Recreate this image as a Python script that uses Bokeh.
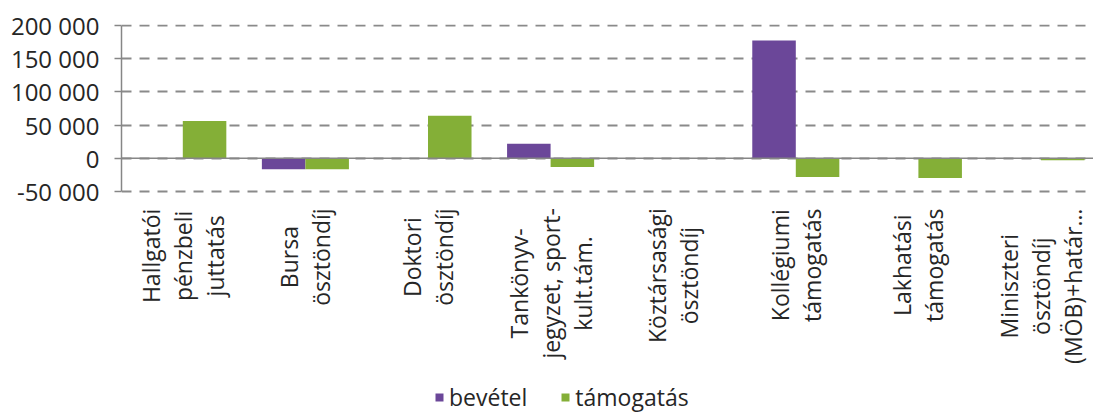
import math
from bokeh.plotting import figure
from bokeh.models import (Range1d, FixedTicker, Span, Legend, LegendItem,
                          ColumnDataSource, Label)
from bokeh.embed import file_html
from bokeh.resources import INLINE

categories = ["Hallgatói\npénzbeli\njuttatás", "Bursa\nösztöndíj", "Doktori\nösztöndíj",
              "Tankönyv-\njegyzet, sport-\nkult.tám.", "Köztársasági\nösztöndíj",
              "Kollégiumi\ntámogatás", "Lakhatási\ntámogatás",
              "Miniszteri\nösztöndíj\n(MÖB)+határ…"]
bevetel = [0, -16500, 0, 22000, 0, 177500, 0, 0]
tamogatas = [56000, -16500, 64000, -13000, 0, -28000, -29500, -3000]
series_names = ["bevétel", "támogatás"]
y_ticks = [-50000, 0, 50000, 100000, 150000, 200000]
y_tick_labels = ["-50 000", "0", "50 000", "100 000", "150 000", "200 000"]

FONT = "Open Sans"
GRAY = "#868686"
TXT = "#262626"
PURPLE = "#6b4799"
GREEN = "#84af37"
LBL_PX = 23
LINE_PX = 32

# approximate Open Sans advance widths (units per em = 2048) for label layout
W = {' ': 532, ',': 502, '-': 659, '.': 545, '(': 608, ')': 608, '+': 1169, '…': 1636,
     'a': 1139, 'b': 1255, 'c': 975, 'd': 1255, 'e': 1149, 'f': 694, 'g': 1122, 'h': 1257,
     'i': 518, 'j': 518, 'k': 1075, 'l': 518, 'm': 1905, 'n': 1257, 'o': 1237, 'p': 1255,
     'r': 836, 's': 977, 't': 723, 'u': 1257, 'v': 1026, 'y': 1030, 'z': 930,
     'á': 1139, 'é': 1149, 'í': 518, 'ó': 1237, 'ö': 1237, 'Ö': 1593,
     'B': 1319, 'D': 1479, 'H': 1524, 'K': 1208, 'L': 1044, 'M': 1817, 'O': 1593, 'T': 1147}


def text_px(s):
    return sum(W.get(ch, 1100) for ch in s) / 2048 * LBL_PX


idx = list(range(len(categories)))
src = ColumnDataSource(dict(
    xb=[i + 0.5 - 0.1775 for i in idx],
    xt=[i + 0.5 + 0.1775 for i in idx],
    bev=bevetel, tam=tamogatas))

WIDTH, HEIGHT = 1093, 416
FRAME_LEFT = 121
FRAME_TOP = 24
CAT_PX = 122.6
PX_PER_50K = 33.2
Y_TOP = 201500
Y_BOTTOM = Y_TOP - (HEIGHT - FRAME_TOP) * 50000 / PX_PER_50K

p = figure(width=WIDTH, height=HEIGHT, output_backend="svg", toolbar_location=None,
           x_range=Range1d(0, (WIDTH - FRAME_LEFT) / CAT_PX),
           y_range=Range1d(Y_BOTTOM, Y_TOP),
           min_border_left=FRAME_LEFT, min_border_right=0, min_border_top=FRAME_TOP,
           min_border_bottom=0)
p.outline_line_color = None
p.background_fill_color = "white"
p.border_fill_color = "white"

r1 = p.vbar(x="xb", top="bev", width=0.355, source=src, fill_color=PURPLE, line_color=None)
r2 = p.vbar(x="xt", top="tam", width=0.355, source=src, fill_color=GREEN, line_color=None)

p.add_layout(Span(location=0, dimension="width", line_color=GRAY, line_width=1.5))

# y axis
yax = p.yaxis[0]
yax.ticker = FixedTicker(ticks=y_ticks, minor_ticks=[])
yax.major_label_overrides = {t: l for t, l in zip(y_ticks, y_tick_labels)}
yax.bounds = (y_ticks[0], y_ticks[-1])
yax.axis_line_color = GRAY
yax.axis_line_width = 1.5
yax.major_tick_line_color = GRAY
yax.major_tick_line_width = 1.5
yax.major_tick_out = 7
yax.major_tick_in = 0
yax.minor_tick_line_color = None
yax.major_label_text_font = FONT
yax.major_label_text_font_size = "24px"
yax.major_label_text_color = TXT
yax.major_label_standoff = 15

p.xaxis.visible = False
p.xgrid.grid_line_color = None
p.ygrid.grid_line_color = "#8a8a8a"
p.ygrid.grid_line_width = 2
p.ygrid.grid_line_dash = "10 8"
p.ygrid.ticker = FixedTicker(ticks=y_ticks)

# category labels: rotated, each line centred, block starting just below the plot
for i, cat in zip(idx, categories):
    lines = cat.split("\n")
    longest = max(text_px(line) for line in lines)
    n = len(lines)
    for j, line in enumerate(lines):
        p.add_layout(Label(x=i + 0.5, y=y_ticks[0], text=line, angle=math.pi / 2,
                           text_align="center", text_baseline="middle",
                           x_offset=(j - (n - 1) / 2) * LINE_PX,
                           y_offset=-(17 + longest / 2),
                           text_font=FONT, text_font_size=f"{LBL_PX}px",
                           text_color=TXT))

legend = Legend(items=[LegendItem(label=series_names[0], renderers=[r1]),
                       LegendItem(label=series_names[1], renderers=[r2])],
                orientation="horizontal", location=(313, 3),
                label_text_font=FONT, label_text_font_size="23px",
                label_text_color=TXT, label_height=26,
                glyph_width=10, glyph_height=10, label_standoff=5, spacing=33,
                padding=0, margin=0, border_line_color=None, background_fill_alpha=0)
p.add_layout(legend, "center")

open("out.html", "w").write(file_html(p, INLINE))
